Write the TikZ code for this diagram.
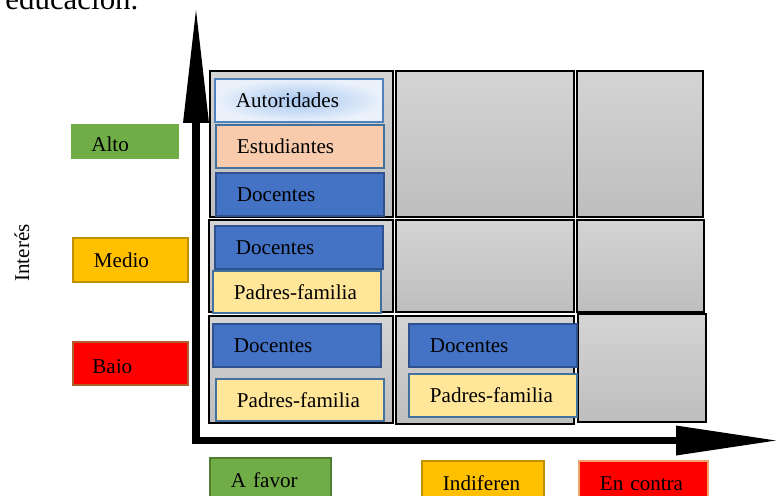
\documentclass[tikz,border=0pt]{standalone}
\usepackage{fontspec}
\setmainfont{Liberation Serif}
\usetikzlibrary{arrows.meta}
\definecolor{celltop}{HTML}{D4D4D4}
\definecolor{cellbot}{HTML}{BEBEBE}
\definecolor{autin}{HTML}{A6C6F0}
\definecolor{autout}{HTML}{EAF1FB}
\definecolor{autline}{HTML}{4F81BD}
\definecolor{estfill}{HTML}{F8CBAD}
\definecolor{docfill}{HTML}{4472C4}
\definecolor{docline}{HTML}{2F528F}
\definecolor{padfill}{HTML}{FFE699}
\definecolor{padline}{HTML}{41719C}
\definecolor{verde}{HTML}{70AD47}
\definecolor{verdeline}{HTML}{507E32}
\definecolor{ambar}{HTML}{FFC000}
\definecolor{ambarline}{HTML}{BF9000}
\definecolor{rojo}{HTML}{FF0000}
\definecolor{bajoline}{HTML}{B0612B}
\definecolor{contraline}{HTML}{F4A46A}
\begin{document}
\begin{tikzpicture}[x=0.02cm, y=-0.02cm, font=\fontsize{12}{14}\selectfont, line join=miter,
	cell/.style={draw=black, line width=1.3pt, top color=celltop, bottom color=cellbot},
	actor/.style={draw, line width=1.1pt, anchor=north west, minimum width=3.36cm, minimum height=0.86cm, inner xsep=0.42cm, inner ysep=0pt, text width=2.52cm, align=left, text height=0.8em, text depth=0pt},
	nivel/.style={anchor=north west, line width=1.1pt, minimum height=0.88cm, inner xsep=0.42cm, inner ysep=0pt, align=left, text height=0.8em, text depth=0pt},
	eje/.style={line width=4.5pt, line cap=butt}]
	\useasboundingbox (0,0) rectangle (776,495);
	\node[anchor=base west, inner sep=0pt, font=\fontsize{17.6}{20}\selectfont] (titulo) at (5,9) {educación.};
	% celdas de la matriz
	\draw[cell] (210,71) rectangle (393,217);
	\draw[cell] (396,71) rectangle (574,217);
	\draw[cell] (577,71) rectangle (703,217);
	\draw[cell] (209,220) rectangle (393,312);
	\draw[cell] (396,220) rectangle (574,312);
	\draw[cell] (577,220) rectangle (704,312);
	\draw[cell] (209,316) rectangle (393,423);
	\draw[cell] (396,316) rectangle (574,424);
	\draw[cell] (578,314) rectangle (706,422);
	% actores
	\node[actor, draw=autline, inner color=autin, outer color=autout] (aut) at (214,78) {Autoridades};
	\node[actor, draw=padline, fill=estfill] (est) at (215,124) {Estudiantes};
	\node[actor, draw=docline, fill=docfill] (doca) at (215,172) {Docentes};
	\node[actor, draw=docline, fill=docfill] (docb) at (214,225) {Docentes};
	\node[actor, draw=padline, fill=padfill, minimum height=0.84cm] (pada) at (212,270) {Padres-familia};
	\node[actor, draw=docline, fill=docfill] (docc) at (212,323) {Docentes};
	\node[actor, draw=padline, fill=padfill, minimum height=0.84cm] (padb) at (215,378) {Padres-familia};
	\node[actor, draw=docline, fill=docfill] (docd) at (408,323) {Docentes};
	\node[actor, draw=padline, fill=padfill] (padc) at (408,373) {Padres-familia};
	% ejes
	\coordinate (origen) at (196,444);
	\coordinate (ytip) at (196,10);
	\coordinate (xini) at (192,440.5);
	\coordinate (xtip) at (776,440.5);
	\draw[eje, -{Triangle[length=2.26cm, width=0.52cm, line width=0pt]}] (origen) -- (ytip);
	\draw[eje, -{Triangle[length=2cm, width=0.6cm, line width=0pt]}] (xini) -- (xtip);
	% niveles de interes
	\node[rotate=90] (interes) at (22,253) {Interés};
	\node[nivel, fill=verde, text width=1.32cm, minimum height=0.7cm] (alto) at (70,123) {};
	\begin{scope}
		\clip (70,123) rectangle (178,150);
		\node[anchor=base west, inner sep=0pt] (altotxt) at (91,151) {Alto};
	\end{scope}
	\node[nivel, draw=ambarline, fill=ambar, text width=1.46cm] (medio) at (72,237) {Medio};
	\node[nivel, draw=bajoline, fill=rojo, text width=1.46cm, minimum height=0.86cm] (bajo) at (72,341) {};
	\begin{scope}
		\clip (72,341) rectangle (187,372);
		\node[anchor=base west, inner sep=0pt] (bajotxt) at (92,373) {Bajo};
	\end{scope}
	% posicion
	\node[nivel, draw=verdeline, fill=verde, text width=1.58cm] (afavor) at (209,457) {A favor};
	\node[nivel, draw=ambarline, fill=ambar, text width=1.6cm] (indif) at (421,460) {Indiferen};
	\node[nivel, draw=contraline, fill=rojo, text width=1.74cm] (contra) at (578,460) {En contra};
\end{tikzpicture}
\end{document}
